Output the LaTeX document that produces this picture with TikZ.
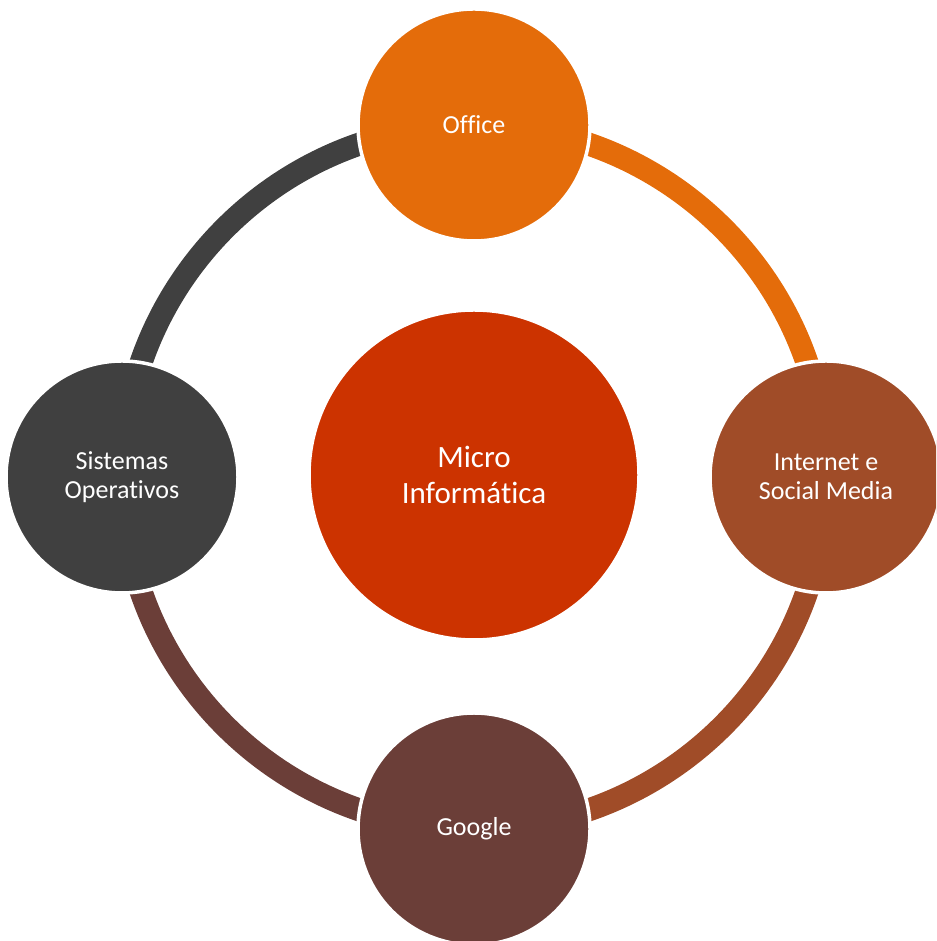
\documentclass[tikz,border=0pt]{standalone}
\usepackage{fontspec}
\setmainfont{Carlito}[Ligatures=NoCommon]
\definecolor{cOffice}{HTML}{E46C0A}
\definecolor{cCentral}{HTML}{CC3300}
\definecolor{cInternet}{HTML}{A04C28}
\definecolor{cGoogle}{HTML}{6B3E38}
\definecolor{cSistemas}{HTML}{404040}
\tikzset{
  sat/.style={circle, minimum size=232pt, inner sep=0pt, draw=white, line width=3.5pt,
    text=white, align=center, font=\fontsize{26}{29}\selectfont},
  hub/.style={circle, minimum size=330pt, inner sep=0pt, draw=white, line width=3.5pt,
    fill=cCentral, text=white, align=center, font=\fontsize{31}{36}\selectfont},
  ringarc/.style={line width=23pt, line cap=butt}
}
\begin{document}
\begin{tikzpicture}[x=1pt,y=1pt]
\useasboundingbox (0,0) rectangle (936,941);
\clip (0,0) rectangle (936,941);
\coordinate (ctr) at (474,464);
\path (474,816) coordinate (pO) (826,464) coordinate (pI) (474,112) coordinate (pG) (122,464) coordinate (pS);
% ring arcs
\draw[ringarc, cOffice] (pO) arc[start angle=90, end angle=0, radius=352];
\draw[ringarc, cInternet] (pI) arc[start angle=0, end angle=-90, radius=352];
\draw[ringarc, cGoogle] (pG) arc[start angle=270, end angle=180, radius=352];
\draw[ringarc, cSistemas] (pS) arc[start angle=180, end angle=90, radius=352];
% nodes
\node[hub] (central) at (474,466) {Micro\\Informática};
\node[sat, fill=cOffice] (office) at (pO) {Office};
\node[sat, fill=cInternet] (internet) at (pI) {Internet e\\Social Media};
\node[sat, fill=cGoogle] (google) at (pG) {Google};
\node[sat, fill=cSistemas] (sistemas) at (pS) {Sistemas\\Operativos};
\end{tikzpicture}
\end{document}
